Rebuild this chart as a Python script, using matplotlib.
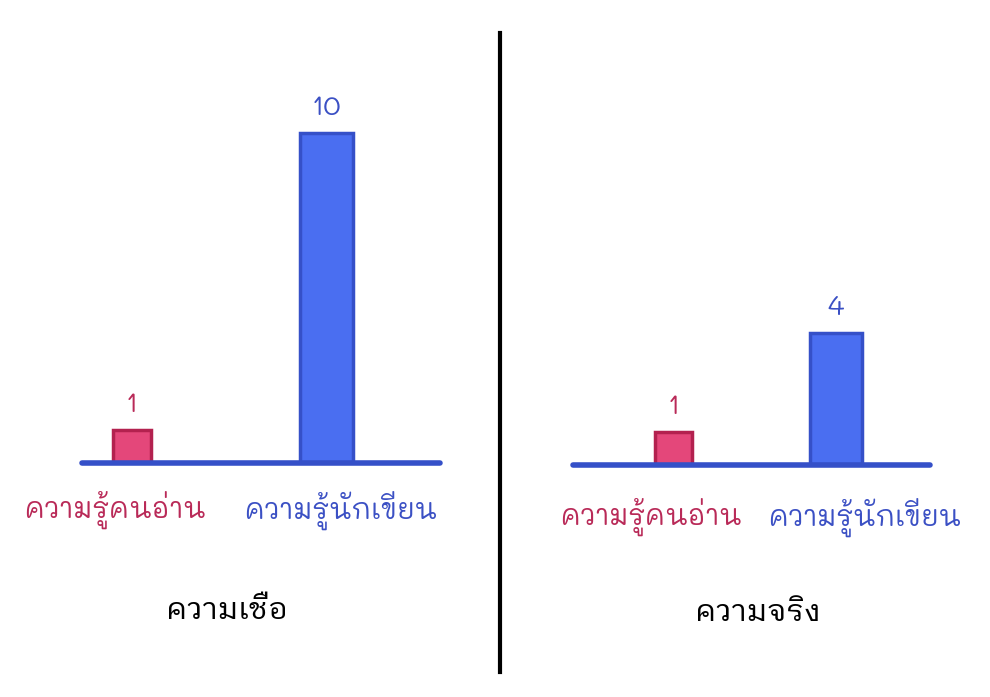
import matplotlib
matplotlib.use("Agg")
import matplotlib.pyplot as plt

# ---- data ----
categories = ["ความรู้คนอ่าน", "ความรู้นักเขียน"]
belief_values = [1, 10]
reality_values = [1, 4]
panel_titles = ["ความเชื่อ", "ความจริง"]

hand_font = ["Mali", "DejaVu Sans"]
title_font = ["IBM Plex Sans Thai Looped", "Noto Sans Thai", "DejaVu Sans"]
plt.rcParams["font.family"] = hand_font

W, H = 990, 697
fig = plt.figure(figsize=(W / 100, H / 100), dpi=100)

pink_fill, pink_edge, pink_text = "#e4477a", "#b3214f", "#b92a58"
blue_fill, blue_edge, blue_text = "#4a6ef1", "#3550c8", "#3b50c4"
fills = [pink_fill, blue_fill]
edges = [pink_edge, blue_edge]
tcols = [pink_text, blue_text]

px_per_unit = 33.0
top_y = 80

def make_panel(x0, x1, c0, c1, base_y, widths_px, values):
    ax = fig.add_axes([x0 / W, 1 - base_y / H, (x1 - x0) / W, (base_y - top_y) / H])
    spacing = c1 - c0
    ax.set_xlim((x0 - c0) / spacing, (x1 - c0) / spacing)
    ax.set_ylim(0, (base_y - top_y) / px_per_unit)
    for x, v, w, fc, ec, tc in zip([0, 1], values, widths_px, fills, edges, tcols):
        ax.bar(x, v, width=w / spacing, color=fc, edgecolor=ec, linewidth=2.5, zorder=2)
        ax.text(x, v + 0.35, str(v), ha="center", va="bottom", fontsize=20,
                color=tc, zorder=3)
    ax.axhline(0, color=blue_edge, linewidth=4, solid_capstyle="round", zorder=3,
               clip_on=False)
    ax.axis("off")
    return ax

make_panel(82, 440, 132, 326.5, 463, [38, 53], belief_values)
make_panel(573, 930, 673.5, 836, 465, [37, 52], reality_values)

# category labels
label_pos = [[(115, 510), (341, 510)], [(651, 517), (865, 517)]]
for panel in label_pos:
    for (x, y), cat, col in zip(panel, categories, tcols):
        fig.text(x / W, 1 - y / H, cat, ha="center", va="center", fontsize=20, color=col)

fig.text(227 / W, 1 - 610 / H, panel_titles[0], ha="center", va="center", fontsize=22,
         color="black", family=title_font)
fig.text(758 / W, 1 - 612 / H, panel_titles[1], ha="center", va="center", fontsize=22,
         color="black", family=title_font)

# divider
fig.add_artist(plt.Line2D([500 / W, 500 / W], [1 - 33 / H, 1 - 672 / H], color="black", linewidth=3))

fig.savefig("out.png", dpi=100, facecolor="white")
